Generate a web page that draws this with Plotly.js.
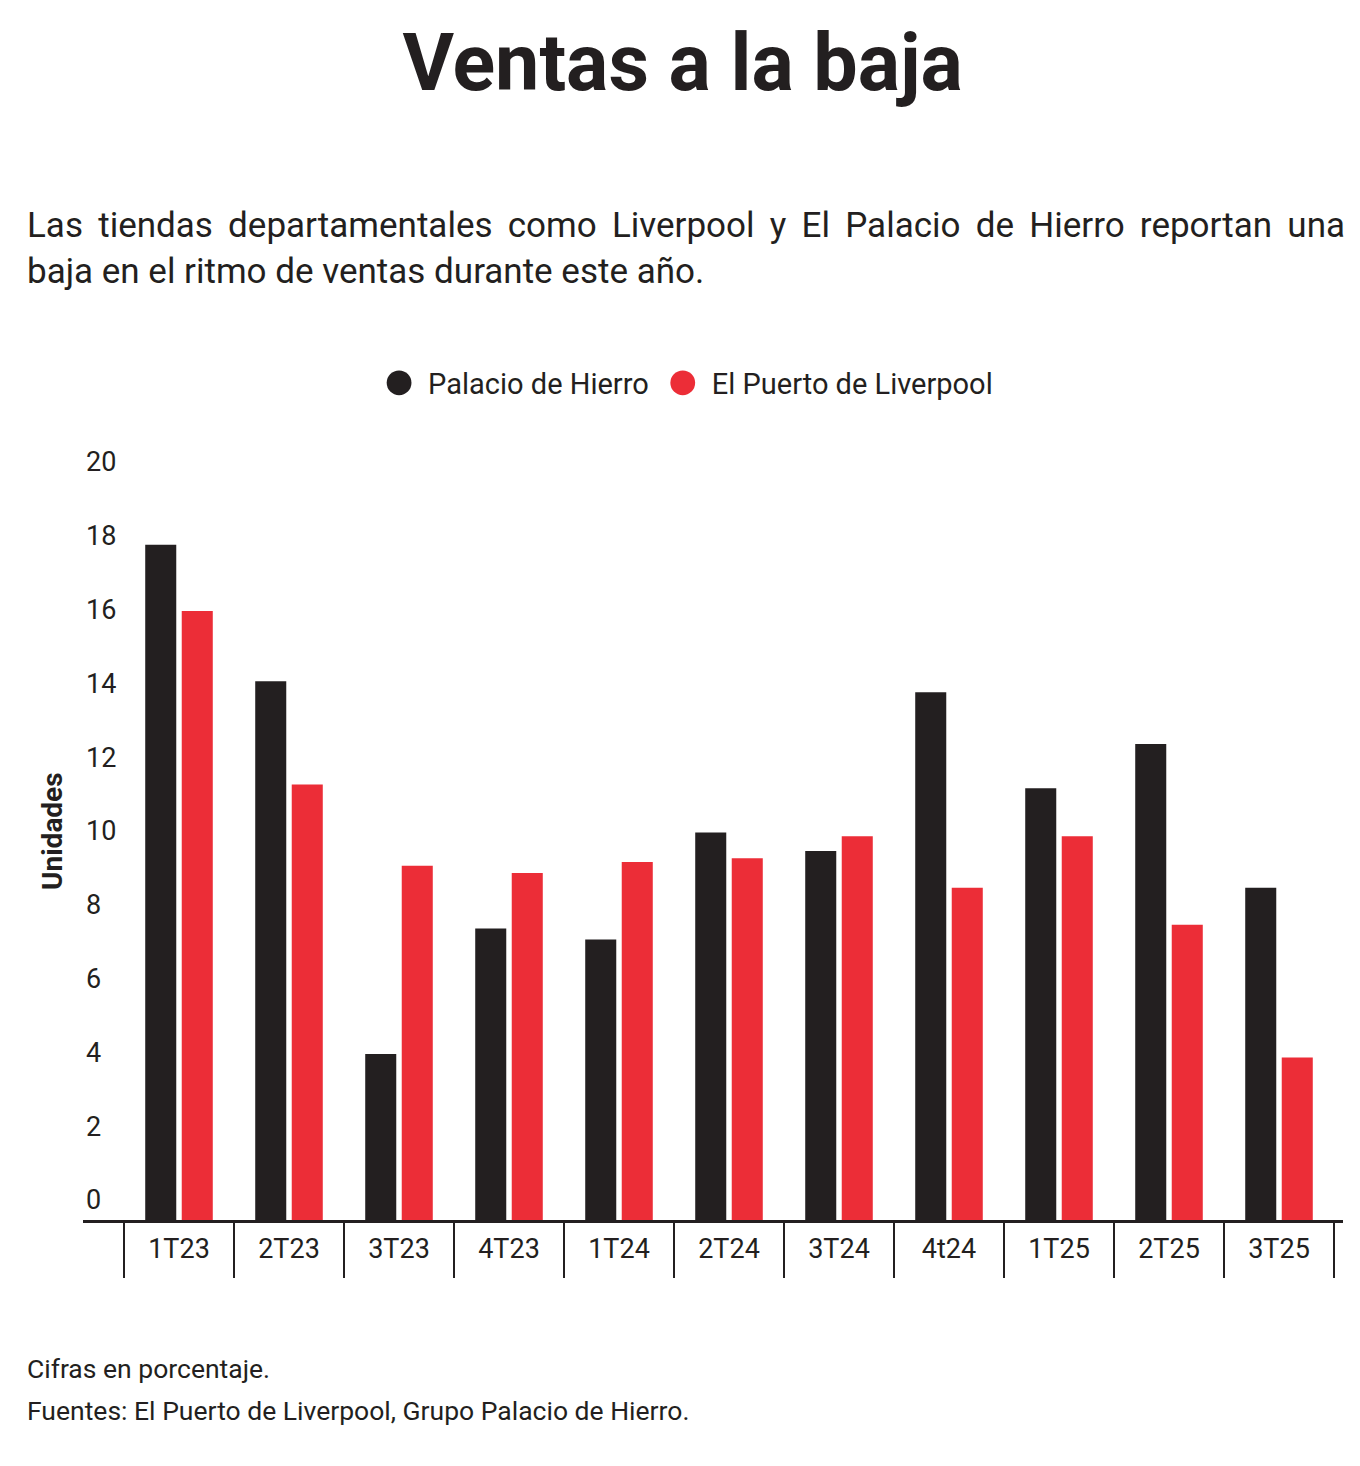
<!DOCTYPE html>
<html>
<head>
<meta charset="utf-8">
<script src="https://cdn.plot.ly/plotly-3.0.1.min.js"></script>
<style>html,body{margin:0;padding:0;background:#fff}</style>
</head>
<body>
<div id="chart" style="width:1360px;height:1466px"></div>
<script>
// ---- data ----
const categories = ['1T23','2T23','3T23','4T23','1T24','2T24','3T24','4t24','1T25','2T25','3T25'];
const palacioValues = [18.3, 14.6, 4.5, 7.9, 7.6, 10.5, 10.0, 14.3, 11.7, 12.9, 9.0];
const liverpoolValues = [16.5, 11.8, 9.6, 9.4, 9.7, 9.8, 10.4, 9.0, 10.4, 8.0, 4.4];
const seriesNames = ['Palacio de Hierro', 'El Puerto de Liverpool'];
const yTickValues = [0, 2, 4, 6, 8, 10, 12, 14, 16, 18, 20];
const yTickLabels = ['0', '2', '4', '6', '8', '10', '12', '14', '16', '18', '20'];
const titleText = 'Ventas a la baja';
const subtitleLine1 = 'Las tiendas departamentales como Liverpool y El Palacio de Hierro reportan una';
const subtitleLine2 = 'baja en el ritmo de ventas durante este año.';
const noteText = 'Cifras en porcentaje.';
const sourceText = 'Fuentes: El Puerto de Liverpool, Grupo Palacio de Hierro.';
const yAxisTitle = 'Unidades';

// ---- style ----
const INK = '#231f20';
const RED = '#ec2d37';
const FONT = 'Roboto, "Noto Sans", sans-serif';
const W = 1360, H = 1466;
const UNIT = 36.9;              // px per unit on the value axis
const Y_MAX = 21;               // a little headroom so the shifted "20" label stays visible
const M = {l: 83, r: 17, t: 1220 - UNIT * Y_MAX, b: 246};
const PW = W - M.l - M.r, PH = H - M.t - M.b;
const px2x = p => (p - M.l) / PW;
const px2y = p => (H - M.b - p) / PH;

const data = [
  {type: 'bar', x: categories, y: palacioValues, name: seriesNames[0],
   marker: {color: INK}, showlegend: false, hoverinfo: 'skip'},
  {type: 'bar', x: categories, y: liverpoolValues, name: seriesNames[1],
   marker: {color: RED}, showlegend: false, hoverinfo: 'skip'},
  {type: 'scatter', mode: 'markers', x: [null], y: [null], name: seriesNames[0],
   marker: {color: INK, size: 16, symbol: 'circle'}, showlegend: true},
  {type: 'scatter', mode: 'markers', x: [null], y: [null], name: seriesNames[1],
   marker: {color: RED, size: 16, symbol: 'circle'}, showlegend: true}
];

const layout = {
  width: W, height: H,
  margin: M,
  paper_bgcolor: '#fff', plot_bgcolor: '#fff',
  font: {family: FONT, color: INK, size: 27},
  barmode: 'group',
  bargap: 0.336,
  bargroupgap: 0.15,
  title: {
    text: '<b>' + titleText + '</b>',
    font: {family: FONT, size: 79, color: INK},
    x: 0.502, xref: 'container', xanchor: 'center',
    y: 1 - 62 / H, yref: 'container', yanchor: 'middle'
  },
  showlegend: true,
  legend: {
    orientation: 'h',
    xref: 'container', yref: 'container',
    x: 0.503, xanchor: 'center',
    y: 1 - 383 / H, yanchor: 'middle',
    font: {family: FONT, size: 29, color: INK},
    itemwidth: 48,
    itemclick: false, itemdoubleclick: false,
    traceorder: 'normal'
  },
  xaxis: {
    type: 'category',
    range: [(M.l - 179) / 110, (W - M.r - 179) / 110],
    tickson: 'boundaries',
    ticks: 'outside', ticklen: 55, tickwidth: 2, tickcolor: INK,
    showline: true, linewidth: 3, linecolor: INK,
    showgrid: false, zeroline: false,
    ticklabelstandoff: 3,
    tickfont: {family: FONT, size: 27, color: INK},
    fixedrange: true
  },
  yaxis: {
    range: [0, Y_MAX],
    tickvals: yTickValues, ticktext: yTickLabels,
    ticks: '', showline: false, showgrid: false, zeroline: false,
    ticklabelposition: 'inside',
    ticklabelshift: -20,
    tickfont: {family: FONT, size: 27, color: INK},
    fixedrange: true
  },
  annotations: [
    {text: '<b>' + yAxisTitle + '</b>', xref: 'paper', yref: 'paper', x: px2x(53), y: px2y(831),
     xanchor: 'center', yanchor: 'middle', textangle: -90, showarrow: false,
     font: {family: FONT, size: 28, color: INK}},
    {text: subtitleLine1, xref: 'paper', yref: 'paper', x: px2x(25), y: px2y(226),
     xanchor: 'left', yanchor: 'middle', align: 'left', showarrow: false,
     font: {family: FONT, size: 35, color: INK}},
    {text: subtitleLine2, xref: 'paper', yref: 'paper', x: px2x(25), y: px2y(272),
     xanchor: 'left', yanchor: 'middle', align: 'left', showarrow: false,
     font: {family: FONT, size: 35, color: INK}},
    {text: noteText, xref: 'paper', yref: 'paper', x: px2x(25), y: px2y(1368),
     xanchor: 'left', yanchor: 'middle', align: 'left', showarrow: false,
     font: {family: FONT, size: 26.5, color: INK}},
    {text: sourceText, xref: 'paper', yref: 'paper', x: px2x(25), y: px2y(1410),
     xanchor: 'left', yanchor: 'middle', align: 'left', showarrow: false,
     font: {family: FONT, size: 26.5, color: INK}}
  ]
};

Plotly.newPlot('chart', data, layout, {staticPlot: true, displayModeBar: false}).then(gd => {
  // bigger legend dots
  gd.querySelectorAll('.legend .legendpoints path.scatterpts').forEach(p => {
    const t = p.getAttribute('transform') || '';
    p.setAttribute('transform', t + ' scale(1.55)');
  });
  // justify the first subtitle line to the full text width
  gd.querySelectorAll('.annotation-text').forEach(el => {
    if (el.textContent === subtitleLine1) {
      const len = el.getComputedTextLength();
      const spaces = (subtitleLine1.match(/ /g) || []).length;
      const target = 1343 - 25;
      if (len < target) el.style.wordSpacing = ((target - len) / spaces) + 'px';
    }
  });
});
</script>
</body>
</html>
